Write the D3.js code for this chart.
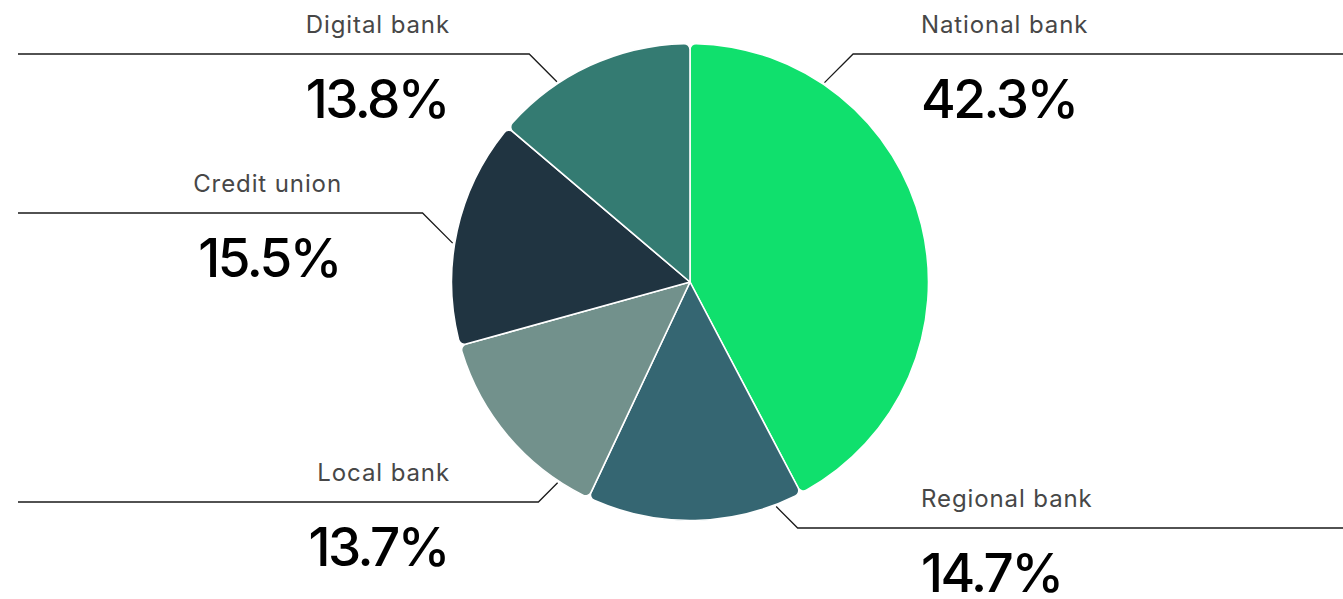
<!DOCTYPE html>
<html>
<head>
<meta charset="utf-8">
<script src="https://cdn.jsdelivr.net/npm/d3@7"></script>
<style>
  html, body { margin: 0; padding: 0; background: #ffffff; }
  svg { display: block; }
  .name { font-family: Inter, "Open Sans", sans-serif; font-size: 24px; fill: #474747; letter-spacing: 0.9px; }
  .pct { font-family: Inter, "Open Sans", sans-serif; font-size: 53px; font-weight: 500; fill: #000; letter-spacing: -2.5px; }
</style>
</head>
<body>
<svg id="chart" width="1343" height="599"></svg>
<script>
// Share of accounts by institution type (percent)
const categories = ["National bank", "Regional bank", "Local bank", "Credit union", "Digital bank"];
const shares = [42.3, 14.7, 13.7, 15.5, 13.8];
const colors = ["#10e06d", "#356672", "#72918c", "#203441", "#347b72"];

// Label layout: side, y of the horizontal leader, text anchor x, and angle (deg, clockwise from top) where the leader meets the pie
const labelSide = ["right", "right", "left", "left", "left"];
const labelLineY = [54, 528, 502, 213, 54];
const labelTextX = [921, 921, 450, 342, 450];
const leaderAngle = [34, 159, 213.4, 279.3, 326.4];

const W = 1343, H = 599;
const cx = 690, cy = 282, R = 238.5;

const svg = d3.select("#chart");
const g = svg.append("g").attr("transform", `translate(${cx},${cy})`);

const data = categories.map((c, i) => ({ name: c, value: shares[i], color: colors[i], i }));

const pie = d3.pie().value(d => d.value).sort(null);
const arc = d3.arc().innerRadius(0).outerRadius(R).cornerRadius(6);

g.selectAll("path.slice")
  .data(pie(data))
  .join("path")
  .attr("class", "slice")
  .attr("d", arc)
  .attr("fill", d => d.data.color)
  .attr("stroke", "#ffffff")
  .attr("stroke-width", 1.6)
  .attr("stroke-linejoin", "round");

// Leader lines: 45° segment from the pie rim to the label row, then a horizontal run to the page edge
const rLead = R + 2;
const fmt = d3.format(".1f");
data.forEach((d, i) => {
  const a = leaderAngle[i] * Math.PI / 180;
  const sx = cx + rLead * Math.sin(a);
  const sy = cy - rLead * Math.cos(a);
  const ly = labelLineY[i];
  const dd = Math.abs(ly - sy);
  const right = labelSide[i] === "right";
  const ex = right ? sx + dd : sx - dd;
  const endX = right ? W : 18;
  svg.append("path")
    .attr("d", d3.line()([[sx, sy], [ex, ly], [endX, ly]]))
    .attr("fill", "none")
    .attr("stroke", "#1a1a1a")
    .attr("stroke-width", 1.3);

  const anchor = right ? "start" : "end";
  svg.append("text")
    .attr("class", "name")
    .attr("x", labelTextX[i])
    .attr("y", ly - 21)
    .attr("text-anchor", anchor)
    .text(d.name);
  svg.append("text")
    .attr("class", "pct")
    .attr("x", labelTextX[i] + (right ? 0 : -2))
    .attr("y", ly + 64)
    .attr("text-anchor", anchor)
    .text(fmt(d.value) + "%");
});
</script>
</body>
</html>
